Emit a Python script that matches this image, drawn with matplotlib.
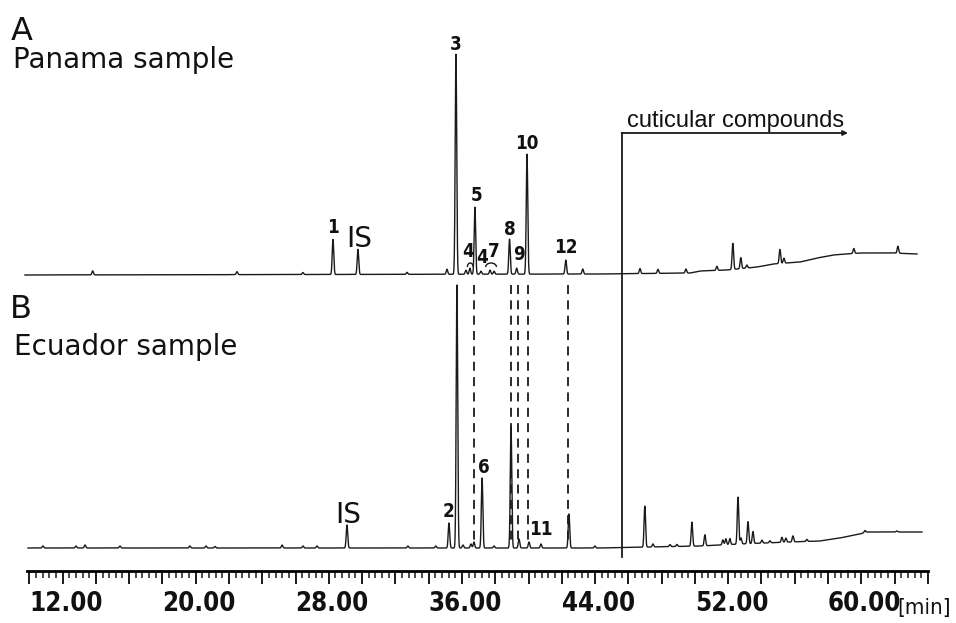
import numpy as np
import matplotlib
matplotlib.use("Agg")
import matplotlib.pyplot as plt
from matplotlib import font_manager
from matplotlib.patches import Arc
from matplotlib.font_manager import FontProperties

# ---------------- data (retention time in min, peak height in arbitrary units) -------------
A_times = [15.81, 24.48, 28.44, 30.25, 31.75, 34.70, 37.10, 37.64, 38.24, 38.48,
           38.78, 39.14, 39.69, 39.93, 40.86, 41.29, 41.91, 44.24, 45.26, 48.70,
           49.78, 51.46, 53.32, 54.28, 54.76, 55.12, 57.11, 57.35, 61.55, 64.20]
A_heights = [4, 3, 2, 35, 25, 2, 5, 220, 4, 6,
             67, 3, 4, 3, 35, 6, 120, 14, 5, 5,
             4, 4, 4, 26, 11, 3, 14, 5, 5, 7]
A_base_t = [11.74, 46.30, 51.71, 52.31, 53.93, 55.74, 56.70, 58.32, 59.35, 60.31, 61.93, 63.90, 65.35]
A_base_h = [0, 1, 2, 4, 5, 8, 11, 13, 17, 20, 22, 22, 21]

B_times = [12.82, 14.81, 15.35, 17.45, 21.65, 22.62, 23.16, 27.19, 28.45, 29.29,
           31.09, 34.75, 36.43, 37.22, 37.70, 38.06, 38.54, 38.72, 39.21, 39.93,
           40.95, 41.43, 42.03, 42.75, 44.43, 45.99, 48.99, 49.48, 50.50, 50.92,
           51.82, 52.60, 53.68, 53.86, 54.10, 54.59, 54.77, 55.19, 55.49, 56.03,
           56.51, 57.23, 57.47, 57.89, 58.73, 62.22, 64.14]
B_heights = [2, 2, 3, 2, 2, 2, 1.5, 3, 2, 2,
             23, 2, 2, 25, 263, 3, 4, 6, 70, 2,
             121, 9, 6, 4, 34, 2, 41, 3, 2, 2,
             24, 11, 5, 6, 6, 47, 6, 22, 12, 3,
             2, 5, 4, 6, 2, 2, 1]
B_base_t = [11.92, 46.30, 52.31, 54.71, 57.71, 59.51, 60.71, 61.91, 62.33, 63.11, 65.65]
B_base_h = [0, 0, 2, 4, 6, 7, 10, 14, 16, 16, 16]

# peak annotations: (label, time, label baseline in px from top)
A_labels = [("1", 30.25, 233), ("3", 37.64, 50), ("4", 38.35, 257), ("4", 39.20, 263),
            ("7", 39.92, 257), ("5", 38.85, 201), ("8", 40.86, 235), ("9", 41.40, 260),
            ("10", 41.91, 149), ("12", 44.24, 253)]
B_labels = [("2", 37.18, 517), ("6", 39.30, 473), ("11", 42.75, 535)]
IS_A_t, IS_B_t = 31.75, 31.09
DASH_T = [38.72, 40.93, 41.37, 41.97, 44.37]
CUT_START, CUT_END = 47.6, 61.2

MAJOR_TICKS = np.arange(12, 66.01, 2)
MINOR_TICKS = np.arange(12, 66.01, 0.4)
LABEL_TICKS = [12, 20, 28, 36, 44, 52, 60]

# ---------------- layout ----------------
W, H = 956, 623
PX0, PPM = 29.3, 16.64           # pixel of t=12 min and pixels per minute
T_LEFT = 12 - PX0 / PPM
T_RIGHT = 12 + (W - PX0) / PPM
YA, YB = H - 275, H - 548        # baselines of the two traces (y in pixel-units from bottom)

flist = font_manager.fontManager.ttflist
names = {f.name for f in flist}
has_dv_cond = any(f.name == "DejaVu Sans" and "condensed" in str(f.stretch) for f in flist)
ARIAL = "Liberation Sans" if "Liberation Sans" in names else "DejaVu Sans"
if has_dv_cond:
    NUMFONT = dict(family="DejaVu Sans", stretch="condensed")
    TICK_SIZE, NUM_SIZE, MIN_SIZE = 18.5, 13.5, 16
else:
    NUMFONT = dict(family=ARIAL)
    TICK_SIZE, NUM_SIZE, MIN_SIZE = 18.5, 13.5, 16


def trace(times, heights, bt, bh, t0, t1, sigma=0.045):
    t = np.arange(t0, t1, 0.004)
    y = np.interp(t, bt, bh)
    for tc, h in zip(times, heights):
        y = y + h * np.exp(-0.5 * ((t - tc) / sigma) ** 2)
    return t, y


fig = plt.figure(figsize=(W / 100, H / 100), dpi=100)
ax = fig.add_axes([0, 0, 1, 1])
ax.set_xlim(T_LEFT, T_RIGHT)
ax.set_ylim(0, H)
ax.axis("off")

LC = "#1a1a1a"
tA, yA = trace(A_times, A_heights, A_base_t, A_base_h, A_base_t[0], A_base_t[-1])
tB, yB = trace(B_times, B_heights, B_base_t, B_base_h, B_base_t[0], B_base_t[-1])
ax.plot(tA, yA + YA, color=LC, lw=1.0)
ax.plot(tB, yB + YB, color=LC, lw=1.0)

# dashed correspondence lines
for td in DASH_T:
    ax.plot([td, td], [H - 285, H - 540], color=LC, lw=1.3, dashes=(5, 3.5))

# cuticular compounds marker
ax.plot([CUT_START, CUT_START], [H - 557, H - 133], color=LC, lw=1.3)
ax.annotate("", xy=(CUT_END, H - 133), xytext=(CUT_START, H - 133),
            arrowprops=dict(arrowstyle="-|>", lw=1.3, color=LC, mutation_scale=7,
                            shrinkA=0, shrinkB=0))
ax.text(CUT_START + 0.3, H - 127, "cuticular compounds", fontsize=17, family=ARIAL,
        ha="left", va="baseline", color="#111111")

# peak labels
num_kw = dict(fontsize=NUM_SIZE, weight="bold", ha="center", va="baseline", color="#111111", **NUMFONT)
for lab, t, yb in A_labels + B_labels:
    ax.text(t, H - yb, lab, **num_kw)

# little arcs around tiny peaks 4 / 7
ax.add_patch(Arc((38.50, H - 267), 0.35, 8, theta1=20, theta2=180, color=LC, lw=1.0))
ax.add_patch(Arc((39.75, H - 267), 0.65, 8, theta1=0, theta2=180, color=LC, lw=1.0))

ax.text(IS_A_t + 0.05, H - 247, "IS", fontsize=20, ha="center", va="baseline", color="#111111")
ax.text(IS_B_t + 0.05, H - 523, "IS", fontsize=20, ha="center", va="baseline", color="#111111")

# panel titles
def ftext(px, py, s, **kw):
    fig.text(px / W, 1 - py / H, s, ha="left", va="baseline", color="#111111", **kw)

ftext(11, 40, "A", fontsize=23)
ftext(13, 68, "Panama sample", fontsize=20)
ftext(10, 318, "B", fontsize=23)
ftext(14, 355, "Ecuador sample", fontsize=20)

# ---------------- time ruler ----------------
axr = fig.add_axes([0, (H - 571) / H, 1, 0.01])
axr.set_xlim(T_LEFT, T_RIGHT)
axr.patch.set_visible(False)
for s in ("top", "left", "right"):
    axr.spines[s].set_visible(False)
axr.spines["bottom"].set_linewidth(2.0)
axr.spines["bottom"].set_bounds(11.88, 66.0)
axr.set_yticks([])
tick_labels = [f"{v:.2f}" if any(abs(v - L) < 1e-6 for L in LABEL_TICKS) else "" for v in MAJOR_TICKS]
axr.set_xticks(MAJOR_TICKS, labels=tick_labels)
axr.set_xticks([m for m in MINOR_TICKS if abs(m / 2 - round(m / 2)) > 1e-6], minor=True)
axr.tick_params(axis="x", which="major", length=9, width=1.4, direction="out", pad=5.5,
                labelsize=TICK_SIZE, color=LC, labelcolor="#111111")
axr.tick_params(axis="x", which="minor", length=5, width=1.1, direction="out", color=LC)
for lbl in axr.get_xticklabels():
    lbl.set_ha("left")
    lbl.set_fontproperties(FontProperties(size=TICK_SIZE, weight="bold", **NUMFONT))
fig.text(897 / W, 1 - 614 / H, "[min]", fontsize=MIN_SIZE, ha="left", va="baseline",
         color="#111111", **NUMFONT)

fig.savefig("out.png", dpi=100)
